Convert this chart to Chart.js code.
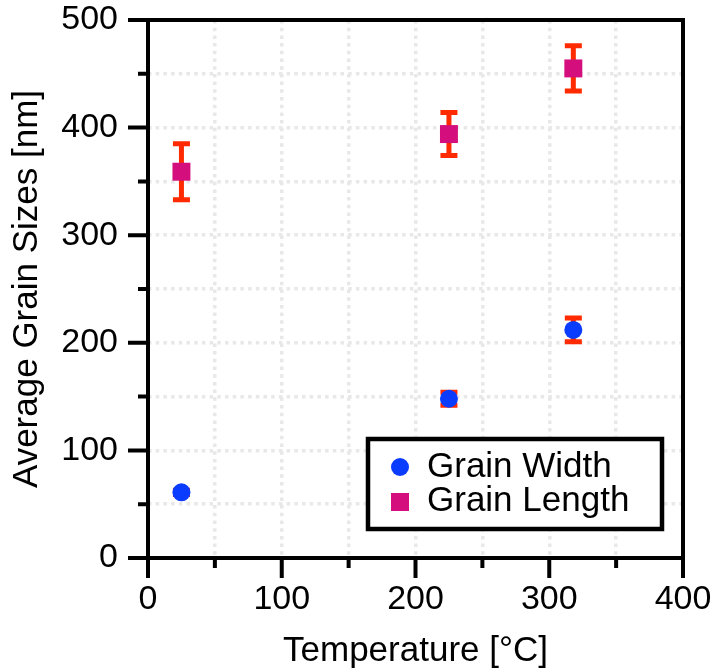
<!DOCTYPE html>
<html>
<head>
<meta charset="utf-8">
<script src="https://cdn.jsdelivr.net/npm/chart.js@4"></script>
<style>
  html, body { margin: 0; padding: 0; background: #fff; }
  #wrap { width: 713px; height: 672px; }
</style>
</head>
<body>
<div id="wrap"><canvas id="grainChart" width="713" height="672"></canvas></div>
<script>
// data
const temperatures = [25, 225, 318];
const widthValues = [61, 148, 212];
const widthErrors = [2, 6, 11];
const lengthValues = [359, 394, 455];
const lengthErrors = [26, 20, 21];
const seriesNames = ['Grain Width', 'Grain Length'];
const xTitle = 'Temperature [°C]';
const yTitle = 'Average Grain Sizes [nm]';

const FONT = "'Liberation Sans', Arial, Helvetica, sans-serif";
const BLUE = '#0a3cff';
const MAGENTA = '#d40f7d';
const ERR_RED = '#ff2a00';

// error bars under the markers
const errorBars = {
  id: 'errorBars',
  beforeDatasetsDraw(chart) {
    const ctx = chart.ctx, xs = chart.scales.x, ys = chart.scales.y;
    ctx.save();
    ctx.strokeStyle = ERR_RED;
    ctx.lineWidth = 5;
    chart.data.datasets.forEach(ds => {
      ds.data.forEach((p, i) => {
        const e = ds.errors[i];
        if (!e) return;
        const x = xs.getPixelForValue(p.x);
        const yt = ys.getPixelForValue(p.y + e), yb = ys.getPixelForValue(p.y - e);
        ctx.beginPath();
        ctx.moveTo(x, yt); ctx.lineTo(x, yb);
        ctx.moveTo(x - 8.5, yt); ctx.lineTo(x + 8.5, yt);
        ctx.moveTo(x - 8.5, yb); ctx.lineTo(x + 8.5, yb);
        ctx.stroke();
      });
    });
    ctx.restore();
  }
};

// frame, tick marks and the boxed legend
const frameAndLegend = {
  id: 'frameAndLegend',
  afterDraw(chart) {
    const ctx = chart.ctx, a = chart.chartArea, xs = chart.scales.x, ys = chart.scales.y;
    ctx.save();
    ctx.strokeStyle = '#000';
    ctx.lineWidth = 4;
    ctx.strokeRect(a.left, a.top, a.right - a.left, a.bottom - a.top);
    ctx.beginPath();
    xs.ticks.forEach(t => {
      const x = xs.getPixelForValue(t.value);
      const len = t.value % 100 === 0 ? 20 : 10;
      ctx.moveTo(x, a.bottom); ctx.lineTo(x, a.bottom + len);
    });
    ys.ticks.forEach(t => {
      const y = ys.getPixelForValue(t.value);
      const len = t.value % 100 === 0 ? 20 : 10;
      ctx.moveTo(a.left, y); ctx.lineTo(a.left - len, y);
    });
    ctx.stroke();

    // legend box
    const bw = 294, bh = 90;
    const bx = a.right - 21 - bw, by = a.bottom - 29 - bh;
    ctx.fillStyle = '#fff';
    ctx.fillRect(bx, by, bw, bh);
    ctx.lineWidth = 4.5;
    ctx.strokeRect(bx, by, bw, bh);
    const mx = bx + 32;
    ctx.fillStyle = BLUE;
    ctx.beginPath(); ctx.arc(mx, by + 28, 9, 0, Math.PI * 2); ctx.fill();
    ctx.fillStyle = MAGENTA;
    ctx.fillRect(mx - 9, by + 63 - 9, 18, 18);
    ctx.fillStyle = '#000';
    ctx.font = '35px ' + FONT;
    ctx.textBaseline = 'middle';
    ctx.fillText(seriesNames[0], bx + 59, by + 28);
    ctx.fillText(seriesNames[1], bx + 59, by + 62);
    ctx.restore();
  }
};

const gridOpts = { color: '#e8e8e8', lineWidth: 3.5, tickLength: 20, tickColor: 'rgba(0,0,0,0)' };

new Chart(document.getElementById('grainChart'), {
  type: 'scatter',
  data: {
    datasets: [
      {
        label: seriesNames[0],
        data: temperatures.map((t, i) => ({ x: t, y: widthValues[i] })),
        errors: widthErrors,
        pointStyle: 'circle', pointRadius: 9,
        backgroundColor: BLUE, borderColor: BLUE, borderWidth: 0
      },
      {
        label: seriesNames[1],
        data: temperatures.map((t, i) => ({ x: t, y: lengthValues[i] })),
        errors: lengthErrors,
        pointStyle: 'rect', pointRadius: 12.7,
        backgroundColor: MAGENTA, borderColor: MAGENTA, borderWidth: 0
      }
    ]
  },
  options: {
    responsive: false,
    animation: false,
    layout: { padding: { top: 20, right: 30, left: 0, bottom: 0 } },
    plugins: { legend: { display: false }, tooltip: { enabled: false } },
    scales: {
      x: {
        min: 0, max: 400,
        grid: gridOpts,
        border: { display: false, dash: [3.5, 4.2] },
        ticks: { stepSize: 50, padding: 1, color: '#000', font: { family: FONT, size: 34 },
          maxRotation: 0, autoSkip: false,
          callback: v => v % 100 === 0 ? v : '' },
        title: { display: true, text: xTitle, color: '#000', font: { family: FONT, size: 35 }, padding: 0 },
        afterFit(scale) { scale.height = 114; scale.paddingLeft = 0; scale.paddingRight = 0; }
      },
      y: {
        min: 0, max: 500,
        grid: gridOpts,
        border: { display: false, dash: [3.5, 4.2] },
        ticks: { stepSize: 50, padding: 10, color: '#000', font: { family: FONT, size: 34 },
          autoSkip: false,
          callback: v => v % 100 === 0 ? v : '' },
        title: { display: true, text: yTitle, color: '#000', font: { family: FONT, size: 35 }, padding: { top: 6, bottom: 0 } },
        afterFit(scale) { scale.width = 148; scale.paddingTop = 0; scale.paddingBottom = 0; }
      }
    }
  },
  plugins: [errorBars, frameAndLegend]
});
</script>
</body>
</html>
